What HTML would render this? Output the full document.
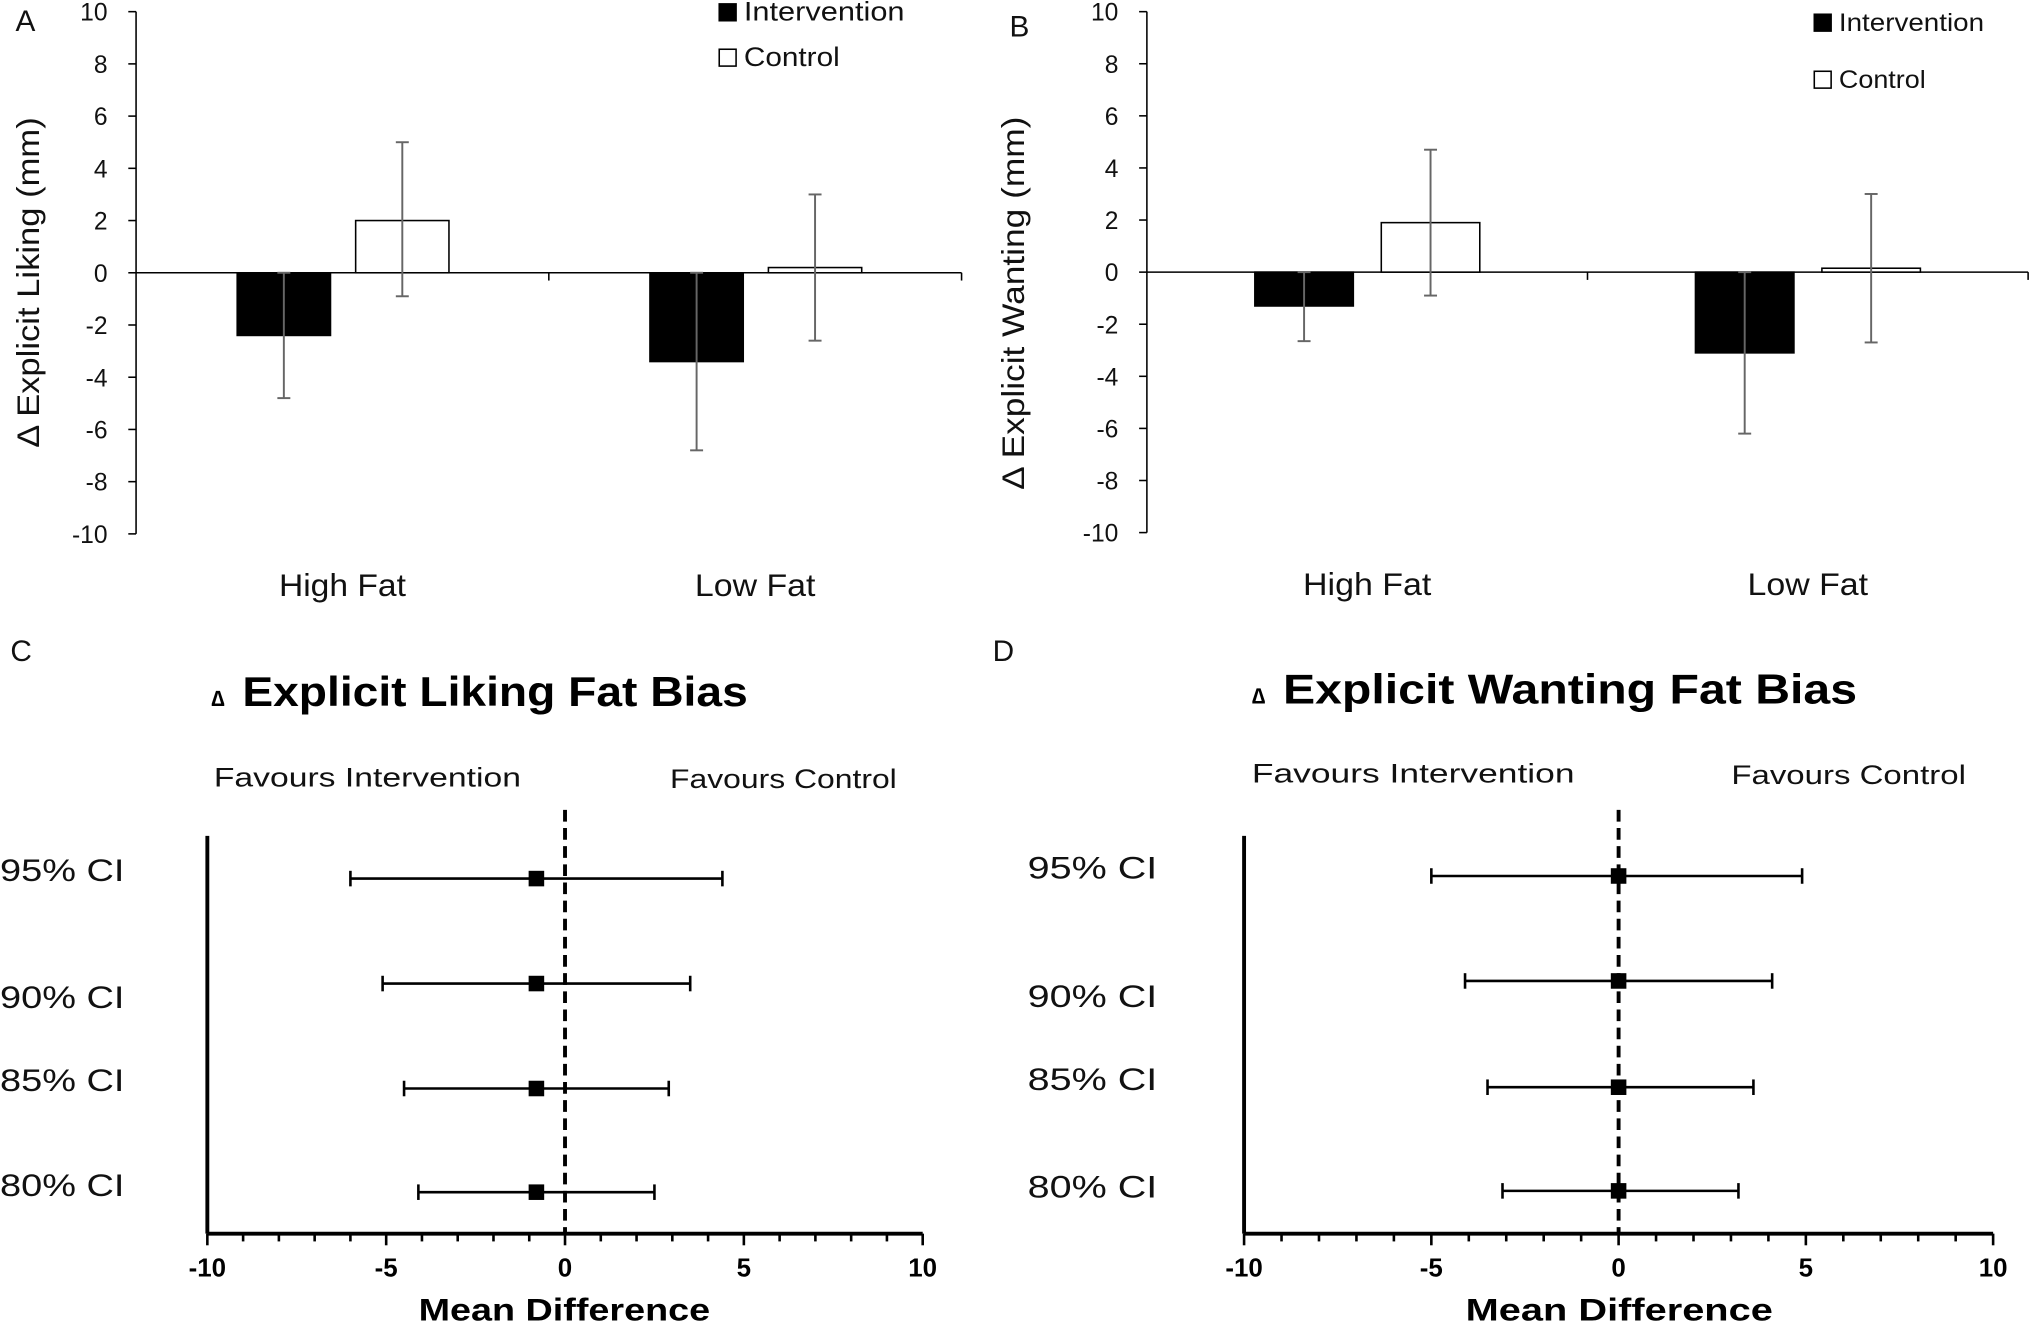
<!DOCTYPE html>
<html><head><meta charset="utf-8"><style>
html,body{margin:0;padding:0;background:#fff;}
svg{display:block;font-family:"Liberation Sans",sans-serif;}
.bold{font-weight:bold;}
</style></head><body>
<svg id="fig" width="2032" height="1325" viewBox="0 0 1568 1022.5" preserveAspectRatio="none" xmlns="http://www.w3.org/2000/svg"></svg>
<script>
// ---- Bar chart data ----
const barCategories = ["High Fat", "Low Fat"];
const barSeries = ["Intervention", "Control"];
const likingMeans = [[-2.4, 2.0], [-3.4, 0.2]];
const likingErrLow = [[-4.8, -0.9], [-6.8, -2.6]];
const likingErrHigh = [[0, 5.0], [0, 3.0]];
const wantingMeans = [[-1.3, 1.9], [-3.1, 0.15]];
const wantingErrLow = [[-2.65, -0.9], [-6.2, -2.7]];
const wantingErrHigh = [[0, 4.7], [0, 3.0]];
const barYTicks = [10, 8, 6, 4, 2, 0, -2, -4, -6, -8, -10];
// ---- Forest plot data ----
const ciLabels = ["95% CI", "90% CI", "85% CI", "80% CI"];
const likingMean = [-0.8, -0.8, -0.8, -0.8];
const likingLow = [-6.0, -5.1, -4.5, -4.1];
const likingHigh = [4.4, 3.5, 2.9, 2.5];
const wantingMean = [0, 0, 0, 0];
const wantingLow = [-5.0, -4.1, -3.5, -3.1];
const wantingHigh = [4.9, 4.1, 3.6, 3.2];
const forestXTicks = [-10, -5, 0, 5, 10];

const svg = document.getElementById('fig');
const NS = 'http://www.w3.org/2000/svg';
function mk(tag, attrs, parent, text) {
  const e = document.createElementNS(NS, tag);
  for (const k in attrs) e.setAttribute(k, attrs[k]);
  if (text !== undefined) e.textContent = text;
  (parent || svg).appendChild(e);
  return e;
}
function fit(e, len) { e.setAttribute('textLength', len); e.setAttribute('lengthAdjust', 'spacingAndGlyphs'); }

function barPanel(o) {
  const g = mk('g', {});
  
  
  const y = v => o.y0 + (10 - v) / 20 * (o.y1 - o.y0);
  const zero = y(0);
  let a = mk('line', {x1: o.ax, y1: o.y0, x2: o.ax, y2: o.y1, stroke: '#000', 'stroke-width': 1.2}, g);
   
  barYTicks.forEach(t => {
    mk('line', {x1: o.ax - 6, y1: y(t), x2: o.ax, y2: y(t), stroke: '#000', 'stroke-width': 1.2}, g);
    const tl = mk('text', {x: o.ax - 22, y: y(t) + 7, 'text-anchor': 'end', 'font-size': 19, fill: '#111'}, g, t);
     
  });
  let xa = mk('line', {x1: o.ax, y1: zero, x2: o.xEnd, y2: zero, stroke: '#000', 'stroke-width': 1.2}, g);
   
  const groupW = (o.xEnd - o.ax) / barCategories.length;
  for (let i = 1; i <= barCategories.length; i++) mk('line', {x1: o.ax + groupW * i, y1: zero, x2: o.ax + groupW * i, y2: zero + 6, stroke: '#000', 'stroke-width': 1.2}, g);
  barCategories.forEach((c, i) => {
    const gx = o.ax + groupW * i;
    const cl = mk('text', {x: gx + groupW * 0.5, y: o.catY, 'text-anchor': 'middle', 'font-size': 24, fill: '#111'}, g, c);
    fit(cl, o.catLen[i]);
     
    barSeries.forEach((s, j) => {
      const bx = gx + groupW * (0.245 + j * 0.287);
      const v = o.means[i][j];
      const r = mk('rect', {x: bx, y: Math.min(y(v), zero), width: o.bw, height: Math.abs(y(v) - zero), fill: j === 0 ? '#000' : '#fff', stroke: '#000', 'stroke-width': 1.2}, g);
      
      
      const cx = bx + o.bw / 2;
      const e = mk('g', {stroke: '#666', 'stroke-width': 1.5}, g);
       
      mk('line', {x1: cx, y1: y(o.hi[i][j]), x2: cx, y2: y(o.lo[i][j])}, e);
      mk('line', {x1: cx - 5, y1: y(o.hi[i][j]), x2: cx + 5, y2: y(o.hi[i][j])}, e);
      mk('line', {x1: cx - 5, y1: y(o.lo[i][j]), x2: cx + 5, y2: y(o.lo[i][j])}, e);
    });
  });
  o.legend.forEach((L, j) => {
    const lg = mk('g', {}, g);
    
    
    mk('rect', {x: L[0], y: L[1], width: 13, height: 13, fill: j === 0 ? '#000' : '#fff', stroke: '#000', 'stroke-width': 1.2}, lg);
    const lt = mk('text', {x: L[0] + 19, y: L[1] + 13, 'font-size': o.legFs, fill: '#111'}, lg, barSeries[j]);
    fit(lt, o.legLen[j]);
  });
  const cy = o.titleCY;
  const tt = mk('text', {x: o.titleX, y: cy, 'text-anchor': 'middle', 'font-size': 24, fill: '#111', transform: `rotate(-90 ${o.titleX} ${cy})`}, g, o.title);
  fit(tt, o.titleLen);
   
  const pl = mk('text', {x: o.letter[0], y: o.letter[1], 'font-size': 23, fill: '#111'}, g, o.letterT);
   
}

function forestPanel(o) {
  const g = mk('g', {});
  
  
  const x = v => o.x0 + (v + 10) / 20 * (o.x1 - o.x0);
  const ax = mk('line', {x1: o.x0, y1: o.axY, x2: o.x1, y2: o.axY, stroke: '#000', 'stroke-width': 3}, g);
   
  const la = mk('line', {x1: o.x0, y1: 645, x2: o.x0, y2: o.axY, stroke: '#000', 'stroke-width': 3}, g);
   
  for (let t = -10; t <= 10; t++) mk('line', {x1: x(t), y1: o.axY, x2: x(t), y2: o.axY + (t % 5 === 0 ? 9 : 6), stroke: '#000', 'stroke-width': 2}, g);
  forestXTicks.forEach(t => {
    const tl = mk('text', {x: x(t), y: 985, 'text-anchor': 'middle', 'font-size': 20, 'class': 'bold'}, g, t);
     
  });
  const zl = mk('line', {x1: x(0), y1: 625, x2: x(0), y2: o.axY, stroke: '#000', 'stroke-width': 3, 'stroke-dasharray': '9,5'}, g);
   
  ciLabels.forEach((c, i) => {
    const yy = o.rows[i];
    const lb = mk('text', {x: o.labX, y: o.labY[i], 'font-size': 24, fill: '#111'}, g, c);
    fit(lb, o.labLen);
     
    const e = mk('g', {stroke: '#000', 'stroke-width': 2}, g);
     
    mk('line', {x1: x(o.lo[i]), y1: yy, x2: x(o.hi[i]), y2: yy}, e);
    mk('line', {x1: x(o.lo[i]), y1: yy - 6, x2: x(o.lo[i]), y2: yy + 6}, e);
    mk('line', {x1: x(o.hi[i]), y1: yy - 6, x2: x(o.hi[i]), y2: yy + 6}, e);
    const m = mk('rect', {x: x(o.mean[i]) - 6, y: yy - 6, width: 12, height: 12, fill: '#000'}, g);
     
  });
  const xt = mk('text', {x: o.mdX, y: 1019, 'font-size': 24, 'class': 'bold'}, g, 'Mean Difference');
  fit(xt, o.mdLen);
   
  const d = mk('text', {x: o.deltaX, y: o.titleY, 'font-size': 17, 'class': 'bold'}, g, '\u2206');
   
  const tg = mk('text', {x: o.titleX, y: o.titleY, 'font-size': 32, 'class': 'bold'}, g, o.title);
  fit(tg, o.titleLen);
   
  const f1 = mk('text', {x: o.fav1[0], y: o.fav1[1], 'font-size': 21, fill: '#111'}, g, 'Favours Intervention');
  fit(f1, o.fav1[2]);
   
  const f2 = mk('text', {x: o.fav2[0], y: o.fav2[1], 'font-size': 21, fill: '#111'}, g, 'Favours Control');
  fit(f2, o.fav2[2]);
   
  const pl = mk('text', {x: o.letter[0], y: o.letter[1], 'font-size': 23, fill: '#111'}, g, o.letterT);
   
}

barPanel({name: 'panel-a-liking-chart', ax: 105, y0: 9, y1: 412, xEnd: 742, bw: 72, catY: 460, catLen: [98, 93], means: likingMeans, lo: likingErrLow, hi: likingErrHigh,
  legend: [[555, 3], [555, 38]], legFs: 21, legLen: [124, 74], title: '\u0394 Explicit Liking (mm)', titleX: 30, titleCY: 218, titleLen: 255, letter: [12, 24], letterT: 'A'});
barPanel({name: 'panel-b-wanting-chart', ax: 885, y0: 9, y1: 411, xEnd: 1565, bw: 76, catY: 459, catLen: [99, 93], means: wantingMeans, lo: wantingErrLow, hi: wantingErrHigh,
  legend: [[1400, 11], [1400, 55]], legFs: 19, legLen: [112, 67], title: '\u0394 Explicit Wanting (mm)', titleX: 790, titleCY: 234, titleLen: 288, letter: [779, 28], letterT: 'B'});
forestPanel({name: 'panel-c-liking-forest', x0: 160, x1: 712, axY: 952, rows: [678, 759, 840, 920], labX: 0, labLen: 96, labY: [680, 778, 842, 923],
  mean: likingMean, lo: likingLow, hi: likingHigh, title: 'Explicit Liking Fat Bias', deltaX: 163, titleX: 187, titleLen: 390, titleY: 545,
  mdX: 323, mdLen: 225, fav1: [165, 607, 237], fav2: [517, 608, 175], letter: [8, 510], letterT: 'C'});
forestPanel({name: 'panel-d-wanting-forest', x0: 960, x1: 1538, axY: 952, rows: [676, 757, 839, 919], labX: 793, labLen: 100, labY: [678, 777, 841, 924],
  mean: wantingMean, lo: wantingLow, hi: wantingHigh, title: 'Explicit Wanting Fat Bias', deltaX: 966, titleX: 990, titleLen: 443, titleY: 543,
  mdX: 1131, mdLen: 237, fav1: [966, 604, 249], fav2: [1336, 605, 181], letter: [766, 510], letterT: 'D'});
</script>
</body></html>
